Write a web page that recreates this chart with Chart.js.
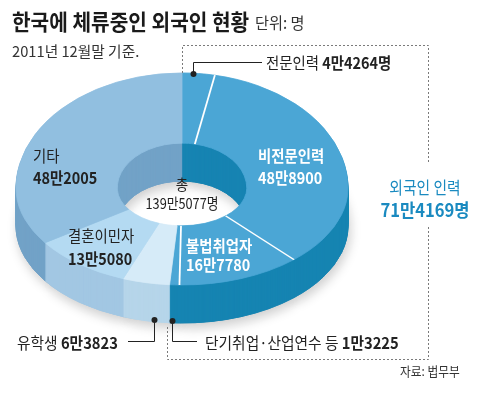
<!DOCTYPE html>
<html>
<head>
<meta charset="utf-8">
<script src="https://cdn.jsdelivr.net/npm/chart.js@4.4.1/dist/chart.umd.min.js"></script>
<style>
html, body { margin: 0; padding: 0; background: #fff; }
#wrap { position: relative; width: 480px; height: 394px; overflow: hidden; font-family: "Noto Sans CJK KR", "Noto Sans", sans-serif; color: #222; }
#wrap canvas { position: absolute; left: 0; top: 0; }
.t { position: absolute; white-space: nowrap; line-height: 1; }
.t b { font-weight: 700; }
</style>
</head>
<body>
<div id="wrap"><canvas id="pie" width="480" height="394"></canvas></div>
<script>
// 한국에 체류중인 외국인 현황 (2011년 12월말 기준, 단위: 명)
const categories = ['전문인력', '비전문인력', '불법취업자', '단기취업·산업연수 등', '유학생', '결혼이민자', '기타'];
const people = [44264, 488900, 167780, 13225, 63823, 135080, 482005];
const workforceCount = 4; // 앞의 4개 항목 = 외국인 인력
const groupName = '외국인 인력';

// 윗면 / 옆면 색
const topColors = ['#4ba6d5', '#4ba6d5', '#4ba6d5', '#4ba6d5', '#d6ebf8', '#b4daf2', '#91bfe0'];
const sideColors = ['#1684b2', '#1684b2', '#1684b2', '#1684b2', '#b6d5ea', '#a2c7e3', '#72a2c7'];

// 입체 도넛 모양
const PIE_Y = 188;     // 타원 중심 (화면)
const K_TOP = 0.693;   // 윗쪽 반 세로 비율
const K_BOT = 0.584;   // 아랫쪽 반 세로 비율
const DEPTH = 38;      // 옆면 두께

function man(n) {
    return Math.floor(n / 10000) + '만' + (n % 10000);
}

function paintArcs(ctx, arcs, colors) {
    arcs.forEach((arc, i) => {
        const a = Object.create(arc);
        a.options = Object.assign({}, arc.options, {
            backgroundColor: colors[i], borderColor: colors[i], borderWidth: 1
        });
        arc.draw.call(a, ctx);
    });
}

const pie3d = {
    id: 'pie3d',
    beforeDatasetsDraw(chart) {
        const ctx = chart.ctx;
        const arcs = chart.getDatasetMeta(0).data;
        const cy0 = arcs[0].y;

        // 위/아래 반쪽을 다른 비율로 눌러서 그림
        const half = (top, dy, fn) => {
            ctx.save();
            ctx.beginPath();
            if (top) ctx.rect(0, 0, chart.width, PIE_Y + dy);
            else ctx.rect(0, PIE_Y + dy, chart.width, chart.height);
            ctx.clip();
            ctx.translate(0, PIE_Y + dy);
            ctx.scale(1, top ? K_TOP : K_BOT);
            ctx.translate(0, -cy0);
            fn();
            ctx.restore();
        };

        // 그림자
        [true, false].forEach(top => {
            half(top, DEPTH, () => {
                ctx.shadowColor = 'rgba(0,0,0,0.2)';
                ctx.shadowBlur = 12;
                ctx.shadowOffsetX = 2;
                ctx.shadowOffsetY = 5;
                paintArcs(ctx, arcs, sideColors);
            });
        });

        // 옆면
        for (let d = DEPTH; d >= 1; d--) {
            half(true, d, () => paintArcs(ctx, arcs, sideColors));
            half(false, d, () => paintArcs(ctx, arcs, sideColors));
        }

        // 윗면 + 흰 구분선
        [true, false].forEach(top => {
            half(top, 0, () => {
                paintArcs(ctx, arcs, topColors);
                ctx.strokeStyle = '#ffffff';
                ctx.lineWidth = 1.8;
                for (let i = 1; i < workforceCount; i++) {
                    const arc = arcs[i];
                    const ang = arc.startAngle;
                    ctx.beginPath();
                    ctx.moveTo(arc.x + Math.cos(ang) * arc.innerRadius, arc.y + Math.sin(ang) * arc.innerRadius);
                    ctx.lineTo(arc.x + Math.cos(ang) * arc.outerRadius, arc.y + Math.sin(ang) * arc.outerRadius);
                    ctx.stroke();
                }
            });
        });
        return false;
    }
};

// 점선 박스와 지시선
const notes = {
    id: 'notes',
    afterDraw(chart) {
        const ctx = chart.ctx;
        ctx.save();
        ctx.strokeStyle = '#7a7a7a';
        ctx.lineWidth = 1;
        ctx.setLineDash([2, 2]);
        ctx.beginPath();
        ctx.moveTo(182.5, 73); ctx.lineTo(182.5, 45.5); ctx.lineTo(428.5, 45.5); ctx.lineTo(428.5, 162);
        ctx.moveTo(428.5, 227); ctx.lineTo(428.5, 359.5); ctx.lineTo(167.5, 359.5); ctx.lineTo(167.5, 325);
        ctx.stroke();
        ctx.setLineDash([]);

        ctx.strokeStyle = '#222';
        ctx.fillStyle = '#222';
        const leaders = [
            [[193.5, 74], [193.5, 62.5], [262, 62.5]],
            [[154.5, 320], [154.5, 341.5], [128, 341.5]],
            [[172.5, 321], [172.5, 341.5], [197, 341.5]]
        ];
        leaders.forEach(pts => {
            ctx.beginPath();
            ctx.moveTo(pts[0][0], pts[0][1]);
            pts.slice(1).forEach(p => ctx.lineTo(p[0], p[1]));
            ctx.stroke();
            ctx.beginPath();
            ctx.arc(pts[0][0], pts[0][1], 3, 0, Math.PI * 2);
            ctx.fill();
        });
        ctx.restore();
    }
};

new Chart(document.getElementById('pie'), {
    type: 'doughnut',
    data: {
        labels: categories,
        datasets: [{ data: people, backgroundColor: topColors, borderWidth: 0 }]
    },
    options: {
        responsive: false,
        animation: false,
        events: [],
        cutout: '39%',
        layout: { padding: { left: 16, right: 132, top: 10, bottom: 52 } },
        plugins: { legend: { display: false }, tooltip: { enabled: false } }
    },
    plugins: [pie3d, notes]
});

// 글자
const wrap = document.getElementById('wrap');
function label(html, x, y, size, opt) {
    opt = opt || {};
    const el = document.createElement('div');
    el.className = 't';
    el.innerHTML = html;
    const sx = opt.sx || 0.9;
    const center = opt.align === 'center';
    el.style.left = x + 'px';
    el.style.top = y + 'px';
    el.style.fontSize = size + 'px';
    el.style.fontWeight = opt.bold ? '700' : '400';
    el.style.color = opt.color || '#222';
    el.style.transformOrigin = center ? 'center center' : 'left center';
    el.style.transform = 'translate(' + (center ? '-50%' : '0') + ', -50%) scaleX(' + sx + ')';
    wrap.appendChild(el);
}

const total = people.reduce((s, v) => s + v, 0);
const workforce = people.slice(0, workforceCount).reduce((s, v) => s + v, 0);

label('한국에 체류중인 외국인 현황', 12, 20, 22, { bold: true, sx: 0.92, color: '#1a1a1a' });
label('단위: 명', 255, 22, 16, { color: '#333', sx: 0.95 });
label('2011년 12월말 기준.', 12, 50, 15, { color: '#333', sx: 0.98 });

label(categories[0] + ' <b>' + man(people[0]) + '명</b>', 266, 62, 16);
label(categories[1], 258, 155, 16, { bold: true, color: '#fff' });
label(man(people[1]), 258, 177, 16, { bold: true, color: '#fff' });
label(categories[2], 186, 245, 16, { bold: true, color: '#fff' });
label(man(people[2]), 186, 264, 16, { bold: true, color: '#fff' });
label(categories[3] + ' <b>' + man(people[3]) + '</b>', 205, 342, 16, { sx: 0.92 });
label(categories[4] + ' <b>' + man(people[4]) + '</b>', 17, 342, 16, { sx: 0.92 });
label(categories[5], 68, 235, 16);
label('<b>' + man(people[5]) + '</b>', 68, 258, 16);
label(categories[6], 33, 155, 16);
label('<b>' + man(people[6]) + '</b>', 33, 177, 16);

label('총', 182, 183, 15, { align: 'center' });
label(man(total) + '명', 182, 202, 15, { align: 'center', sx: 0.85 });

label(groupName, 425, 186, 17, { align: 'center', color: '#1a8ac0', sx: 0.87 });
label(man(workforce) + '명', 425, 209, 18, { align: 'center', color: '#1a8ac0', bold: true, sx: 0.92 });

label('자료: 법무부', 400, 370, 13, { color: '#333' });
</script>
</body>
</html>
